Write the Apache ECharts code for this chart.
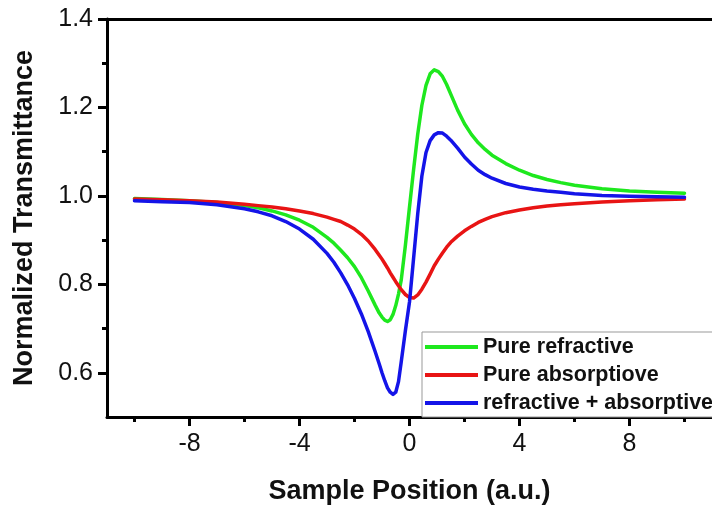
<!DOCTYPE html>
<html>
<head>
<meta charset="utf-8">
<script src="https://cdn.jsdelivr.net/npm/echarts@6/dist/echarts.min.js"></script>
<style>html,body{margin:0;padding:0;background:#fff}#c{width:712px;height:516px}</style>
</head>
<body>
<div id="c"></div>
<script>
var xs = [-10,-9,-8,-7,-6,-5.5,-5,-4.5,-4,-3.5,-3,-2.75,-2.5,-2.25,-2,-1.75,-1.5,-1.25,-1.1,-1,-0.9,-0.8,-0.7,-0.6,-0.5,-0.4,-0.3,-0.15,0,0.15,0.3,0.45,0.6,0.75,0.9,1.05,1.2,1.35,1.5,1.75,2,2.25,2.5,2.75,3,3.5,4,4.5,5,5.5,6,7,8,9,10];
var pureRefractive = [0.994,0.992,0.989,0.985,0.978,0.973,0.966,0.957,0.945,0.929,0.906,0.893,0.877,0.860,0.840,0.815,0.785,0.753,0.735,0.726,0.719,0.716,0.720,0.732,0.752,0.778,0.810,0.888,0.975,1.060,1.140,1.205,1.250,1.276,1.285,1.281,1.270,1.252,1.230,1.194,1.163,1.139,1.120,1.105,1.092,1.073,1.058,1.046,1.037,1.030,1.024,1.016,1.011,1.008,1.006];
var pureAbsorptive = [0.993,0.991,0.989,0.986,0.981,0.978,0.975,0.971,0.966,0.960,0.952,0.947,0.942,0.934,0.925,0.913,0.898,0.879,0.866,0.857,0.847,0.837,0.826,0.816,0.806,0.797,0.788,0.777,0.770,0.769,0.776,0.789,0.805,0.823,0.842,0.857,0.871,0.884,0.895,0.909,0.921,0.931,0.940,0.947,0.953,0.962,0.968,0.973,0.977,0.980,0.982,0.986,0.989,0.991,0.993];
var refrAbs = [0.989,0.987,0.985,0.980,0.971,0.964,0.955,0.942,0.925,0.902,0.870,0.850,0.826,0.799,0.768,0.733,0.693,0.648,0.620,0.600,0.582,0.566,0.556,0.551,0.556,0.580,0.625,0.695,0.760,0.860,0.960,1.045,1.098,1.125,1.138,1.143,1.142,1.135,1.126,1.108,1.088,1.072,1.058,1.048,1.040,1.028,1.020,1.015,1.011,1.008,1.005,1.001,0.999,0.998,0.997];
var seriesNames = ['Pure refractive','Pure absorptiove','refractive + absorptive'];
var seriesColors = ['#1ee81e','#e81414','#1414e8'];
var xMajorTicks = [-8,-4,0,4,8];
var xMinorTicks = [-10,-6,-2,2,6,10];
var yMajorTicks = [0.6,0.8,1.0,1.2,1.4];
var yMinorTicks = [0.7,0.9,1.1,1.3];

function pairs(ys){ return xs.map(function(x,i){ return [x, ys[i]]; }); }
var font = '"Liberation Sans", Arial, sans-serif';
var lineStyle = {color:'#000', width:3};

var chart = echarts.init(document.getElementById('c'), null, {renderer:'canvas'});
var X = {min:-11, max:11, splitLine:{show:false}};
var Y = {min:0.5, max:1.4, splitLine:{show:false}};
chart.setOption({
  animation:false,
  backgroundColor:'#fff',
  grid:{left:107, top:19, right:0, bottom:99},
  xAxis:[
    Object.assign({}, X, {type:'value', position:'bottom',
      axisLine:{show:true, onZero:false, lineStyle:lineStyle},
      axisTick:{show:true, customValues:xMajorTicks, length:9, inside:false, lineStyle:lineStyle},
      axisLabel:{customValues:xMajorTicks, margin:15, color:'#111', fontSize:25, fontFamily:font,
        formatter:function(v){return String(v);}},
      name:'Sample Position (a.u.)', nameLocation:'middle', nameGap:61,
      nameTextStyle:{fontSize:27, fontWeight:'bold', color:'#111', fontFamily:font}}),
    Object.assign({}, X, {type:'value', position:'bottom',
      axisLine:{show:false, onZero:false},
      axisTick:{show:true, customValues:xMinorTicks, length:5, lineStyle:lineStyle},
      axisLabel:{show:false}}),
    Object.assign({}, X, {type:'value', position:'top',
      axisLine:{show:true, onZero:false, lineStyle:lineStyle},
      axisTick:{show:false}, axisLabel:{show:false}})
  ],
  yAxis:[
    Object.assign({}, Y, {type:'value', position:'left',
      axisLine:{show:true, onZero:false, lineStyle:lineStyle},
      axisTick:{show:true, customValues:yMajorTicks, length:9, lineStyle:lineStyle},
      axisLabel:{customValues:yMajorTicks, margin:14, color:'#111', fontSize:25, fontFamily:font,
        formatter:function(v){return v.toFixed(1);}},
      name:'Normalized Transmittance', nameLocation:'middle', nameGap:69,
      nameTextStyle:{fontSize:27, fontWeight:'bold', color:'#111', fontFamily:font}}),
    Object.assign({}, Y, {type:'value', position:'left',
      axisLine:{show:false, onZero:false},
      axisTick:{show:true, customValues:yMinorTicks, length:5, lineStyle:lineStyle},
      axisLabel:{show:false}})
  ],
  legend:{
    left:422, top:332, orient:'vertical',
    icon:'rect', itemWidth:53, itemHeight:4, itemGap:6,
    padding:[4,4,3,3],
    borderColor:'#999', borderWidth:1, backgroundColor:'#fff',
    textStyle:{fontSize:21.5, fontWeight:'bold', color:'#111', fontFamily:font, lineHeight:21},
    data:seriesNames
  },
  series:[pureRefractive, pureAbsorptive, refrAbs].map(function(ys, i){
    return {
      name:seriesNames[i], type:'line', xAxisIndex:0, yAxisIndex:0,
      data:pairs(ys), smooth:false, symbol:'none', showSymbol:false,
      lineStyle:{color:seriesColors[i], width:3.5, join:'round', cap:'round'}, itemStyle:{color:seriesColors[i]},
      z:3+i
    };
  })
});
</script>
</body>
</html>
